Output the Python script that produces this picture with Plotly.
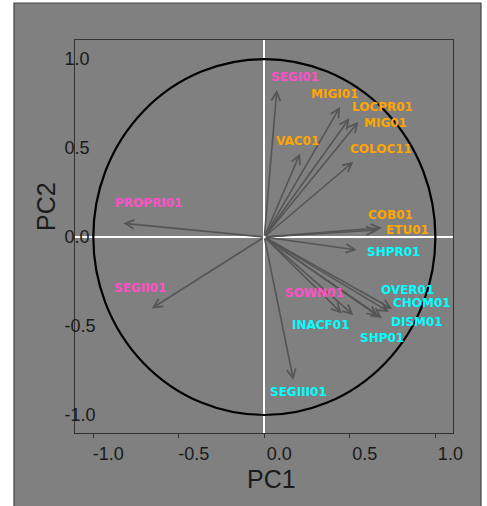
import plotly.graph_objects as go

# ---- data ----
variables = ["SEGI01", "MIGI01", "LOCPR01", "MIG01", "VAC01", "COLOC11", "COB01", "ETU01",
             "SHPR01", "SOWN01", "INACF01", "OVER01", "CHOM01", "DISM01", "SHP01",
             "SEGIII01", "PROPRI01", "SEGII01"]
pc1 = [0.073, 0.443, 0.497, 0.550, 0.209, 0.520, 0.687, 0.659,
       0.540, 0.453, 0.520, 0.747, 0.729, 0.688, 0.665,
       0.170, -0.825, -0.658]
pc2 = [0.826, 0.732, 0.667, 0.648, 0.470, 0.423, 0.052, 0.039,
       -0.073, -0.429, -0.438, -0.404, -0.421, -0.455, -0.444,
       -0.803, 0.077, -0.401]
group = ["pink", "orange", "orange", "orange", "orange", "orange", "orange", "orange",
         "cyan", "pink", "cyan", "cyan", "cyan", "cyan", "cyan",
         "cyan", "pink", "pink"]
tick_vals = [-1.0, -0.5, 0.0, 0.5, 1.0]
tick_text = ["-1.0", "-0.5", "0.0", "0.5", "1.0"]

# ---- label placement (layout, data units) ----
label_x = [0.180, 0.413, 0.688, 0.706, 0.191, 0.682, 0.735, 0.835,
           0.753, 0.296, 0.332, 0.835, 0.922, 0.893, 0.688,
           0.197, -0.680, -0.727]
label_y = [0.899, 0.803, 0.730, 0.640, 0.539, 0.494, 0.124, 0.039,
           -0.084, -0.315, -0.494, -0.298, -0.371, -0.478, -0.567,
           -0.871, 0.191, -0.287]
colors = {"pink": "#ff50c8", "orange": "#ffa500", "cyan": "#00ffff"}

fig = go.Figure()
# invisible trace to hold the axes
fig.add_trace(go.Scatter(x=pc1, y=pc2, mode="markers", marker=dict(opacity=0),
                         hoverinfo="text", text=variables, showlegend=False))

annotations = []
for v, x, y in zip(variables, pc1, pc2):
    annotations.append(dict(x=x, y=y, ax=0, ay=0, xref="x", yref="y", axref="x", ayref="y",
                            text="", showarrow=True, arrowhead=5, arrowsize=1.1,
                            arrowwidth=1.6, arrowcolor="#555555", standoff=0, startstandoff=0))
for v, g, lx, ly in zip(variables, group, label_x, label_y):
    annotations.append(dict(x=lx, y=ly, xref="x", yref="y", text=v, showarrow=False,
                            font=dict(family="DejaVu Sans", size=12, color=colors[g], weight="bold")))
# axis titles (pixel positions converted to paper coords below)
annotations.append(dict(x=271, y=479, xref="paper", yref="paper", text="PC1", showarrow=False,
                        xanchor="center", yanchor="middle",
                        font=dict(family="Liberation Sans", size=25, color="#1a1a1a")))
annotations.append(dict(x=46, y=207, xref="paper", yref="paper", text="PC2", showarrow=False,
                        xanchor="center", yanchor="middle",
                        textangle=-90, font=dict(family="Liberation Sans", size=25, color="#1a1a1a")))

W, H = 487, 506
L, R, T, B = 75, 34, 40, 73
pw, ph = W - L - R, H - T - B
for a in annotations[-2:]:
    a["x"] = (a["x"] - L) / pw
    a["y"] = (H - B - a["y"]) / ph

shapes = [
    # outer gray panel with border
    dict(type="rect", xref="paper", yref="paper",
         x0=(14 - L) / pw, x1=(481 - L) / pw, y0=(H - B - 520) / ph, y1=(H - B - 3) / ph,
         fillcolor="#808080", line=dict(color="#444444", width=1.2), layer="below"),
    # unit circle
    dict(type="circle", xref="x", yref="y", x0=-1, y0=-1, x1=1, y1=1,
         line=dict(color="#000000", width=2.2), layer="above"),
]

fig.update_layout(
    width=W, height=H,
    margin=dict(l=L, r=R, t=T, b=B),
    paper_bgcolor="#ffffff", plot_bgcolor="#808080",
    showlegend=False,
    annotations=annotations, shapes=shapes,
    font=dict(family="Liberation Sans", color="#1a1a1a"),
)
fig.update_xaxes(range=[-1.107, 1.103], tickvals=tick_vals, ticktext=tick_text,
                 showgrid=False, zeroline=True, zerolinecolor="#ffffff", zerolinewidth=2,
                 showline=True, linecolor="#333333", linewidth=1, mirror=True,
                 ticks="outside", ticklen=4, tickcolor="#333333", ticklabelshift=15,
                 ticklabeloverflow="allow",
                 tickfont=dict(size=18, family="Liberation Sans", color="#1a1a1a"))
fig.update_yaxes(range=[-1.101, 1.107], tickvals=tick_vals, ticktext=tick_text,
                 showgrid=False, zeroline=True, zerolinecolor="#ffffff", zerolinewidth=2,
                 showline=True, linecolor="#333333", linewidth=1, mirror=True,
                 ticks="", ticklabelposition="inside", ticklabelstandoff=-10,
                 ticklabeloverflow="allow",
                 tickfont=dict(size=18, family="Liberation Sans", color="#1a1a1a"))

fig.write_html("out.html", config={"displayModeBar": False},
               post_script="document.body.style.margin='0px';")
